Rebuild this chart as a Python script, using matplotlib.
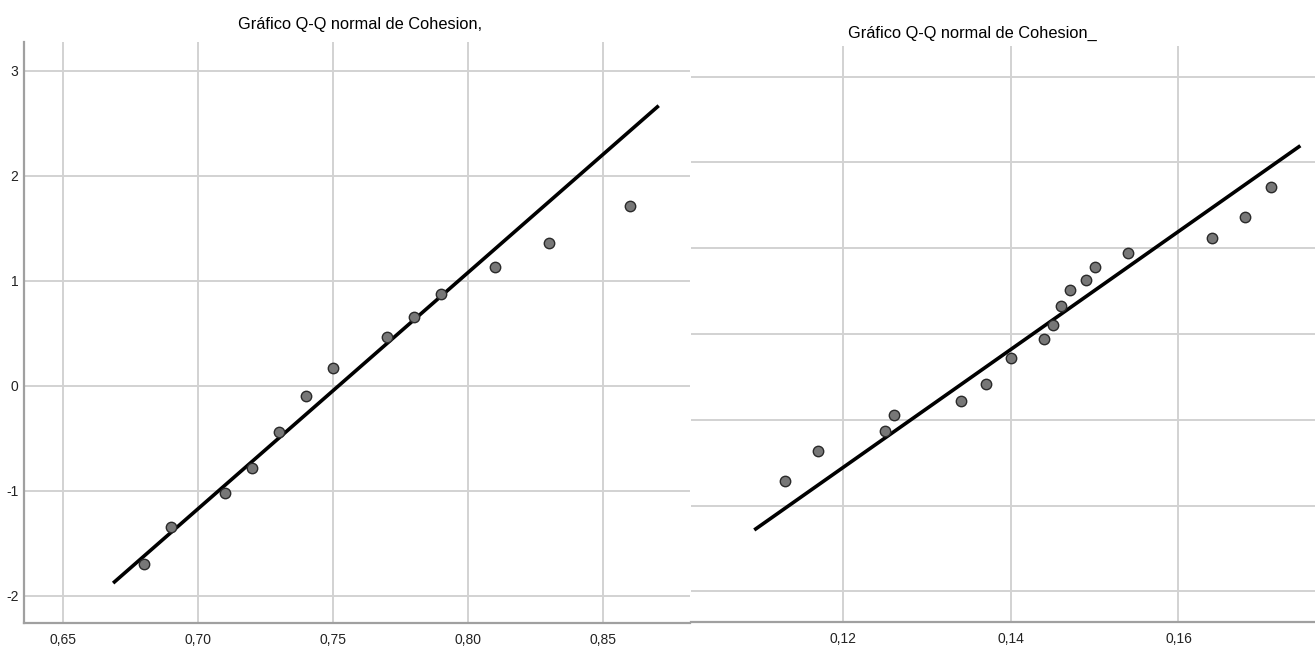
import matplotlib
matplotlib.use('Agg')
import matplotlib.pyplot as plt
from matplotlib.ticker import FuncFormatter

plt.rcParams['font.family'] = ['Liberation Sans Narrow', 'Liberation Sans', 'DejaVu Sans']

title = 'Gráfico Q-Q normal de Cohesion'

# left chart
left_x = [0.68, 0.69, 0.71, 0.72, 0.73, 0.74, 0.75, 0.77, 0.78, 0.79, 0.81, 0.83, 0.86]
left_y = [-1.70, -1.35, -1.02, -0.78, -0.44, -0.10, 0.17, 0.46, 0.65, 0.87, 1.13, 1.36, 1.71]
left_line_x = [0.6687, 0.8707]
left_line_y = [-1.88, 2.667]
left_xticks = [0.65, 0.70, 0.75, 0.80, 0.85]
left_yticks = [-2, -1, 0, 1, 2, 3]

# right chart
right_x = [0.113, 0.117, 0.125, 0.126, 0.134, 0.137, 0.140, 0.144, 0.145,
           0.146, 0.147, 0.149, 0.150, 0.154, 0.164, 0.168, 0.171]
right_y = [-1.71, -1.36, -1.13, -0.94, -0.78, -0.58, -0.28, -0.06, 0.10,
           0.33, 0.51, 0.63, 0.78, 0.94, 1.12, 1.36, 1.71]
right_line_x = [0.10935, 0.17455]
right_line_y = [-2.284, 2.195]
right_xticks = [0.12, 0.14, 0.16]
right_yticks = [-3, -2, -1, 0, 1, 2, 3]

grid_col = '#d2d2d2'
spine_col = '#a0a0a0'


def comma_fmt(v, pos):
    return ('%.2f' % v).replace('.', ',')


def style_axes(ax):
    ax.grid(True, color=grid_col, linewidth=1.4)
    ax.set_axisbelow(True)
    for s in ['top', 'right']:
        ax.spines[s].set_visible(False)
    ax.spines['left'].set_color(spine_col)
    ax.spines['bottom'].set_color(spine_col)
    ax.spines['left'].set_linewidth(1.6)
    ax.spines['bottom'].set_linewidth(1.6)
    ax.tick_params(length=0, labelsize=10, colors='#222222')
    ax.tick_params(axis='x', pad=7)
    ax.tick_params(axis='y', pad=4)
    ax.xaxis.set_major_formatter(FuncFormatter(comma_fmt))


def draw(ax, xs, ys, lx, ly):
    ax.plot(lx, ly, color='black', linewidth=2.6, solid_capstyle='butt', zorder=3)
    ax.plot(xs, ys, 'o', markersize=7.5, markerfacecolor='#777777',
            markeredgecolor='#2a2a2a', markeredgewidth=1.0, zorder=4)


fig = plt.figure(figsize=(13.15, 6.52), dpi=100)

ax1 = fig.add_axes([0.01825, 0.0445, 0.5065, 0.891])
draw(ax1, left_x, left_y, left_line_x, left_line_y)
ax1.set_xlim(0.6357, 0.8823)
ax1.set_ylim(-2.26, 3.273)
ax1.set_xticks(left_xticks)
ax1.set_yticks(left_yticks)
ax1.set_yticklabels([str(v) for v in left_yticks])
style_axes(ax1)

ax2 = fig.add_axes([0.5255, 0.046, 0.4745, 0.8834])
draw(ax2, right_x, right_y, right_line_x, right_line_y)
ax2.set_xlim(0.1018, 0.1763)
ax2.set_ylim(-3.357, 3.357)
ax2.set_xticks(right_xticks)
ax2.set_yticks(right_yticks)
ax2.set_yticklabels([])
style_axes(ax2)
ax2.spines['left'].set_visible(False)

fig.text(360 / 1315, 1 - 25 / 652, title + ',', ha='center', va='center', fontsize=11.8)
fig.text(972 / 1315, 1 - 33 / 652, title + '_', ha='center', va='center', fontsize=11.8)

fig.savefig('out.png', dpi=100)
